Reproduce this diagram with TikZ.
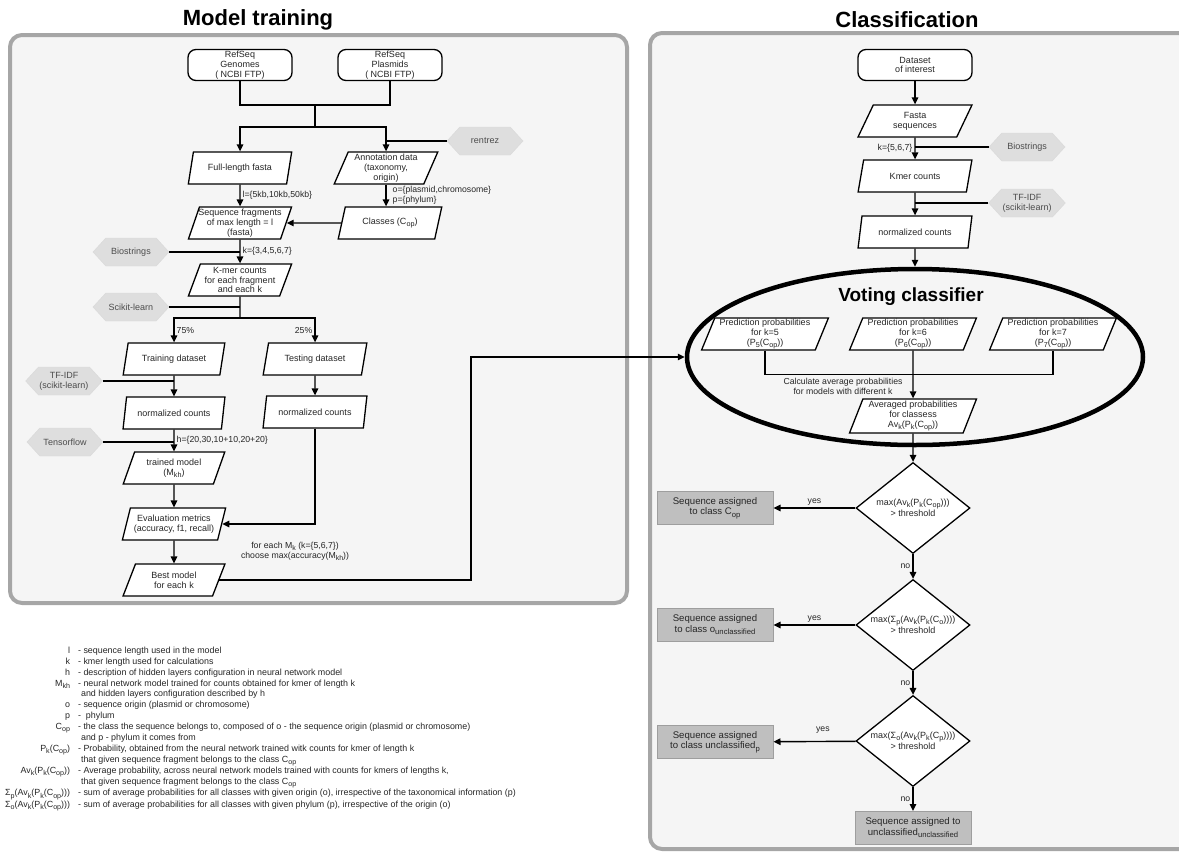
\documentclass[tikz,border=0pt]{standalone}
\usepackage{fontspec}
\setmainfont{Liberation Sans}
\usetikzlibrary{shapes.geometric,shapes.symbols,arrows.meta,positioning}

\newcommand{\low}[1]{\raisebox{-0.45ex}{\scalebox{0.8}{#1}}}

\tikzset{
	panel/.style={draw=black!35, line width=4pt, fill=black!4, rounded corners=12pt},
	heading/.style={font=\fontsize{22}{24}\selectfont\bfseries, text=black},
	term/.style={draw, line width=1.3pt, fill=white, rounded corners=8pt, minimum width=104pt, minimum height=31pt, align=center, inner sep=0pt},
	io/.style={trapezium, trapezium left angle=70, trapezium right angle=110, trapezium stretches=true, draw, line width=1.3pt, fill=white, minimum width=104pt, minimum height=32pt, align=center, inner xsep=-4pt, inner ysep=0pt},
	tool/.style={signal, signal to=east and west, signal pointer angle=95, draw=black!15, fill=black!13, text=black!70, minimum width=76pt, minimum height=28pt, align=center, inner sep=1pt},
	decide/.style={diamond, draw, line width=1.3pt, fill=white, minimum width=114pt, minimum height=91pt, inner xsep=-30pt, inner ysep=0pt, align=center},
	result/.style={draw=black!38, line width=1pt, fill=black!25, minimum width=116pt, minimum height=33pt, align=center, inner sep=1pt, font=\fontsize{9.6}{10.8}\selectfont},
	wire/.style={line width=1.4pt},
	flow/.style={wire, -{Triangle[length=7pt,width=6.5pt]}},
	lbl/.style={font=\fontsize{8.7}{10.2}\selectfont, inner sep=2pt}
}

\begin{document}
\begin{tikzpicture}[x=1pt, y=-1pt, font=\fontsize{9}{9.8}\selectfont, text=black!85]
	\clip (0,0) rectangle (1179,852);

	\draw[panel] (10,35) rectangle (627,603);
	\draw[panel] (650,33) rectangle (1200,849);
	\node[heading] (titleL) at (258,20) {Model training};
	\node[heading] (titleR) at (907,20) {Classification};

	\node[term] (genomes) at (240,65) {RefSeq\\Genomes\\( NCBI FTP)};
	\node[term] (plasmids) at (390,65) {RefSeq\\Plasmids\\( NCBI FTP)};
	\node[tool] (rentrez) at (485,141) {rentrez};
	\node[io] (fulllen) at (240,168) {Full-length fasta};
	\node[io] (annot) at (386,168) {Annotation data\\(taxonomy,\\origin)};
	\node[io] (frag) at (240,223) {Sequence fragments\\of max length = l\\(fasta)};
	\node[io] (classes) at (390,223) {Classes (C\low{op})};
	\node[tool] (bio) at (131,252) {Biostrings};
	\node[io] (kmer) at (240,280) {K-mer counts\\for each fragment\\and each k};
	\node[tool] (sklearn) at (131,307) {Scikit-learn};
	\node[io, minimum width=102pt] (train) at (174,359) {Training dataset};
	\node[io] (test) at (315,359) {Testing dataset};
	\node[tool] (tfidf) at (64,381) {TF-IDF\\(scikit-learn)};
	\node[io, minimum width=102pt] (normL) at (174,413) {normalized counts};
	\node[io] (normR) at (315,412) {normalized counts};
	\node[tool] (tflow) at (65,442) {Tensorflow};
	\node[io, minimum width=102pt] (trained) at (174,468) {trained model\\(M\low{kh})};
	\node[io] (eval) at (174,524) {Evaluation metrics\\(accuracy, f1, recall)};
	\node[io, minimum width=102pt] (best) at (174,580) {Best model\\for each k};
	\node[lbl, align=center] (choose) at (295,551) {for each M\low{k} (k=\{5,6,7\})\\choose max(accuracy(M\low{kh}))};

	\coordinate (merge) at (315,105);
	\coordinate (split) at (315,127);
	\draw[wire] (genomes.south) |- (merge) -| (plasmids.south);
	\draw[wire] (merge) -- (split);
	\draw[flow] (split) -| (fulllen.north);
	\draw[flow] (split) -| (annot.north);
	\draw[wire] (rentrez.west) -- (annot.north |- rentrez.west);
	\draw[flow] (fulllen) -- (frag) node[lbl, midway, right] {l=\{5kb,10kb,50kb\}};
	\draw[flow] (annot.south) -- (annot.south |- classes.north) node[lbl, midway, right, align=left, xshift=4pt] {o=\{plasmid,chromosome\}\\p=\{phylum\}};
	\draw[flow] (classes.west) -- (frag.east);
	\draw[flow] (frag) -- (kmer) node[lbl, midway, right] {k=\{3,4,5,6,7\}};
	\draw[wire] (bio.east) -- (frag.south |- bio.east);
	\coordinate (split2) at (240,318);
	\draw[wire] (kmer.south) -- (split2);
	\draw[wire] (sklearn.east) -- (kmer.south |- sklearn.east);
	\draw[flow] (split2) -| (train.north) node[lbl, pos=0.75, right] {75\%};
	\draw[flow] (split2) -| (test.north) node[lbl, pos=0.75, left] {25\%};
	\draw[flow] (train) -- (normL);
	\draw[wire] (tfidf.east) -- (train.south |- tfidf.east);
	\draw[flow] (test) -- (normR);
	\draw[flow] (normL) -- (trained) node[lbl, midway, right] {h=\{20,30,10+10,20+20\}};
	\draw[wire] (tflow.east) -- (normL.south |- tflow.east);
	\draw[flow] (trained) -- (eval);
	\draw[flow] (normR.south) |- (eval.east);
	\draw[flow] (eval) -- (best);

	\node[term, minimum width=114pt] (dataset) at (915,65) {Dataset\\of interest};
	\node[io, minimum width=114pt] (fasta) at (915,121) {Fasta\\sequences};
	\node[tool] (bio2) at (1027,147) {Biostrings};
	\node[io, minimum width=114pt] (kcount) at (915,176) {Kmer counts};
	\node[tool] (tfidf2) at (1027,203) {TF-IDF\\(scikit-learn)};
	\node[io, minimum width=114pt] (norm2) at (915,232) {normalized counts};

	\node[ellipse, draw, line width=4.5pt, minimum width=456pt, minimum height=176pt] (vote) at (915,357) {};
	\node[font=\fontsize{19}{21}\selectfont\bfseries, text=black] (votetitle) at (911,297) {Voting classifier};
	\node[io, minimum width=127pt] (p5) at (765,334) {Prediction probabilities\\for k=5\\(P\low{5}(C\low{op}))};
	\node[io, minimum width=127pt] (p6) at (913,334) {Prediction probabilities\\for k=6\\(P\low{6}(C\low{op}))};
	\node[io, minimum width=127pt] (p7) at (1053,334) {Prediction probabilities\\for k=7\\(P\low{7}(C\low{op}))};
	\node[lbl, align=center] (calc) at (843,386) {Calculate average probabilities\\for models with different k};
	\node[io, minimum width=127pt, minimum height=34pt] (avg) at (913,416) {Averaged probabilities\\for classess\\Av\low{k}(P\low{k}(C\low{op}))};

	\node[decide] (d1) at (913,508) {max(Av\low{k}(P\low{k}(C\low{op})))\\> threshold};
	\node[decide] (d2) at (913,625) {max(Σ\low{p}(Av\low{k}(P\low{k}(C\low{o}))))\\> threshold};
	\node[decide] (d3) at (913,741) {max(Σ\low{o}(Av\low{k}(P\low{k}(C\low{p}))))\\> threshold};
	\node[result] (r1) at (715,508) {Sequence assigned\\to class C\low{op}};
	\node[result] (r2) at (715,625) {Sequence assigned\\to class o\low{unclassified}};
	\node[result] (r3) at (715,742) {Sequence assigned\\to class unclassified\low{p}};
	\node[result] (r4) at (913,828) {Sequence assigned to\\unclassified\low{unclassified}};

	\draw[flow] (dataset) -- (fasta);
	\draw[flow] (fasta) -- (kcount) node[lbl, midway, left] {k=\{5,6,7\}};
	\draw[wire] (bio2.west) -- (fasta.south |- bio2.west);
	\draw[flow] (kcount) -- (norm2);
	\draw[wire] (tfidf2.west) -- (kcount.south |- tfidf2.west);
	\draw[flow] (norm2) -- (vote.north);
	\draw[wire] (p5.south) -- ++(0,24) -| (p7.south);
	\draw[flow] (p6.south) -- (avg.north);
	\draw[flow] (avg) -- (d1);
	\draw[flow] (d1) -- (r1) node[lbl, midway, above] {yes};
	\draw[flow] (d1) -- (d2) node[lbl, midway, left] {no};
	\draw[flow] (d2) -- (r2) node[lbl, midway, above] {yes};
	\draw[flow] (d2) -- (d3) node[lbl, midway, left] {no};
	\draw[flow] (d3) -- (r3) node[lbl, pos=0.4, above, yshift=5pt] {yes};
	\draw[flow] (d3) -- (r4) node[lbl, midway, left] {no};

	\coordinate (bend) at (471,357);
	\draw[flow] (best.east) -| (bend) -- (vote.west);

	\node[anchor=north west, inner sep=0pt, font=\fontsize{8.9}{10.8}\selectfont] (legend) at (5,646) {\begin{tabular}{@{}r@{\hspace{8pt}}l@{}}
		l & - sequence length used in the model\\
		k & - kmer length used for calculations\\
		h & - description of hidden layers configuration in neural network model\\
		M\low{kh} & - neural network model trained for counts obtained for kmer of length k\\
		& \hspace{3pt}and hidden layers configuration described by h\\
		o & - sequence origin (plasmid or chromosome)\\
		p & - \ phylum\\
		C\low{op} & - the class the sequence belongs to, composed of o - the sequence origin (plasmid or chromosome)\\
		& \hspace{3pt}and p - phylum it comes from\\
		P\low{k}(C\low{op}) & - Probability, obtained from the neural network trained witk counts for kmer of length k\\
		& \hspace{3pt}that given sequence fragment belongs to the class C\low{op}\\
		Av\low{k}(P\low{k}(C\low{op})) & - Average probability, across neural network models trained with counts for kmers of lengths k,\\
		& \hspace{3pt}that given sequence fragment belongs to the class C\low{op}\\
		Σ\low{p}(Av\low{k}(P\low{k}(C\low{op}))) & - sum of average probabilities for all classes with given origin (o), irrespective of the taxonomical information (p)\\
		Σ\low{o}(Av\low{k}(P\low{k}(C\low{op}))) & - sum of average probabilities for all classes with given phylum (p), irrespective of the origin (o)\\
	\end{tabular}};

\end{tikzpicture}
\end{document}
